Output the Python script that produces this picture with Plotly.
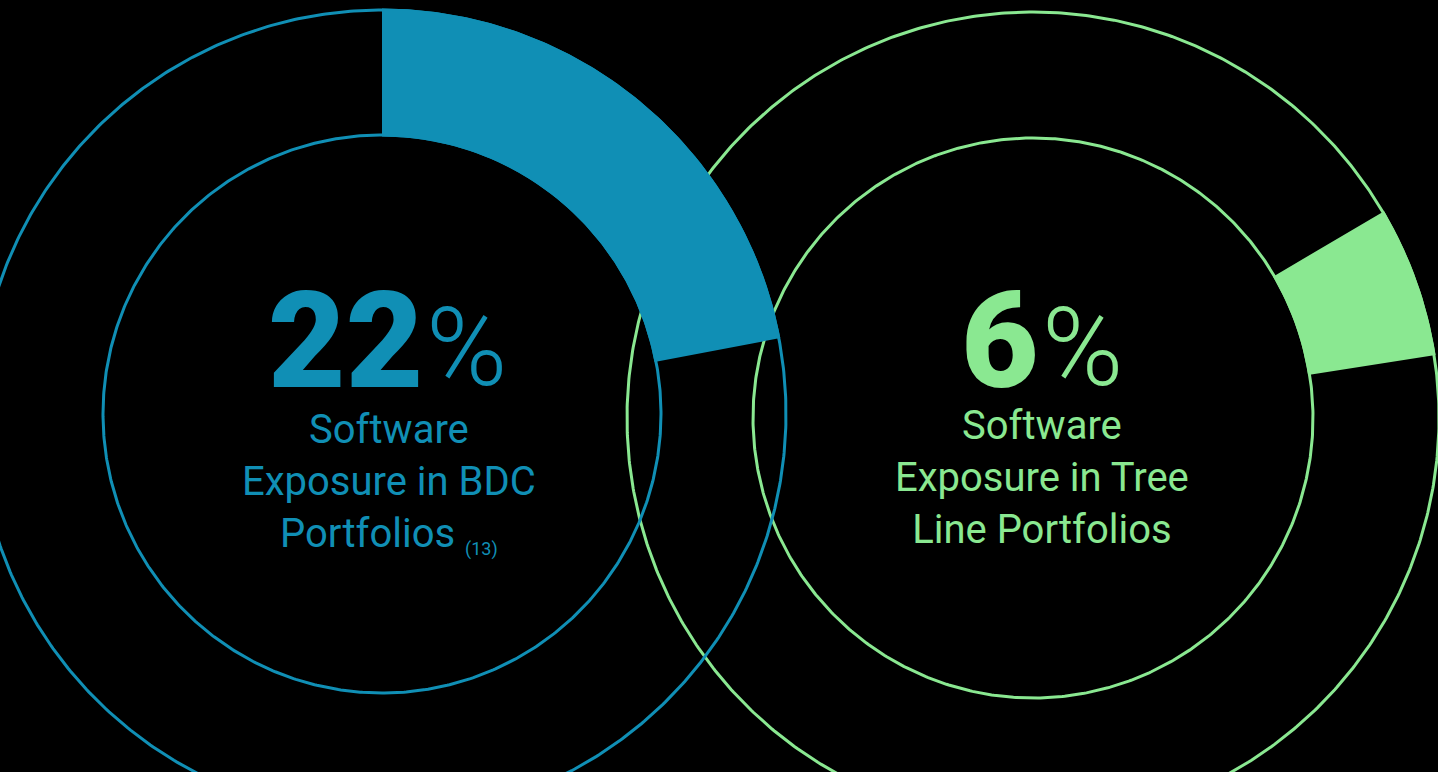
import numpy as np
import plotly.graph_objects as go

# ---- data ----
labels = ["Software Exposure in BDC Portfolios", "Software Exposure in Tree Line Portfolios"]
values = [22, 6]               # percent
big_text = ["22", "6"]
sub_text = ["Software<br>Exposure in BDC<br>Portfolios", "Software<br>Exposure in Tree<br>Line Portfolios"]
footnote = ["(13)", ""]
colors = ["#108FB5", "#8AE891"]

# ---- layout constants (geometry, pixels) ----
W, H = 1438, 772
centers = [(382, 414), (1033, 418)]
r_in = [279, 280]
r_out = [404, 406]
start_deg = [0, 59.5]   # clockwise from 12 o'clock
LW = 3

def circle(cx, cy, r, n=721):
    t = np.linspace(0, 2 * np.pi, n)
    return cx + r * np.sin(t), cy - r * np.cos(t)

def wedge(cx, cy, r1, r2, a0, a1, n=200):
    t = np.radians(np.linspace(a0, a1, n))
    xo, yo = cx + r2 * np.sin(t), cy - r2 * np.cos(t)
    xi, yi = cx + r1 * np.sin(t[::-1]), cy - r1 * np.cos(t[::-1])
    x = np.concatenate([xo, xi, xo[:1]])
    y = np.concatenate([yo, yi, yo[:1]])
    return x, y

fig = go.Figure()
for i in [1, 0]:
    cx, cy = centers[i]
    for r in (r_in[i], r_out[i]):
        x, y = circle(cx, cy, r)
        fig.add_trace(go.Scatter(x=x, y=y, mode="lines",
                                 line=dict(color=colors[i], width=LW),
                                 hoverinfo="skip", showlegend=False))
    a0 = start_deg[i]
    a1 = a0 + values[i] / 100 * 360
    x, y = wedge(cx, cy, r_in[i] - LW / 2, r_out[i] + LW / 2, a0, a1)
    fig.add_trace(go.Scatter(x=x, y=y, mode="lines", fill="toself",
                             fillcolor=colors[i], line=dict(width=0, color=colors[i]),
                             name=labels[i], hoverinfo="skip", showlegend=False))

ann = []
big_pos = [(425, 341), (1041, 341)]
sub_pos = [(389, 483), (1042, 477)]
for i in range(2):
    bx, by = big_pos[i]
    ann.append(dict(x=bx, y=by, text=big_text[i], showarrow=False, xanchor="right", yanchor="middle",
                    font=dict(family="Roboto", size=134, color=colors[i], weight=900)))
    ann.append(dict(x=bx - 1, y=by + 6, text="%", showarrow=False, xanchor="left", yanchor="middle",
                    font=dict(family="Roboto", size=110, color=colors[i], weight=300)))
    sx, sy = sub_pos[i]
    txt = sub_text[i]
    if footnote[i]:
        txt += " <sub><span style='font-size:18px'>" + footnote[i] + "</span></sub>"
    ann.append(dict(x=sx, y=sy, text=txt, showarrow=False, xanchor="center", yanchor="middle",
                    align="center",
                    font=dict(family="Roboto", size=40, color=colors[i], weight=400)))

fig.update_layout(
    width=W, height=H,
    margin=dict(l=0, r=0, t=0, b=0),
    paper_bgcolor="black", plot_bgcolor="black",
    xaxis=dict(range=[0, W], visible=False, fixedrange=True),
    yaxis=dict(range=[H, 0], visible=False, fixedrange=True),
    annotations=ann,
    showlegend=False,
)
fig.write_html("out.html", config={"displayModeBar": False})
